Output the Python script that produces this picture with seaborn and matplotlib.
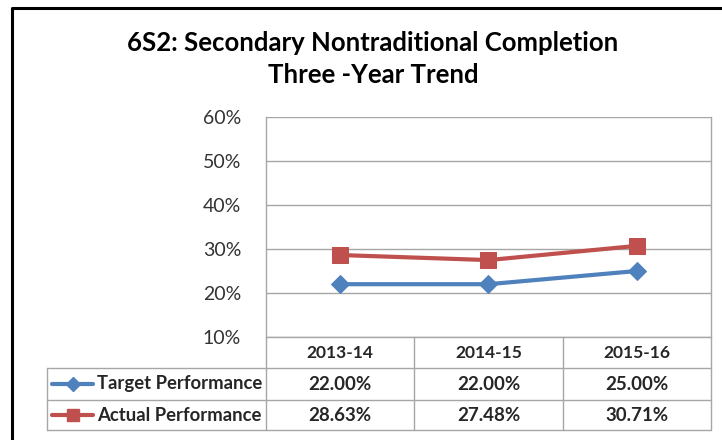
import seaborn as sns
import matplotlib.pyplot as plt
import pandas as pd
from matplotlib.lines import Line2D

# Valores
anos = ['2013-14', '2014-15', '2015-16']
target = [22.00, 22.00, 25.00]
actual = [28.63, 27.48, 30.71]
series_names = ['Target Performance', 'Actual Performance']
titulo = '6S2: Secondary Nontraditional Completion\nThree -Year Trend'

azul = '#4F81BD'
vermelho = '#C0504D'
grade = '#A6A6A6'

sns.set_style('white')
plt.rcParams['font.family'] = ['Lato', 'DejaVu Sans']

W, H = 722, 440
fig = plt.figure(figsize=(W / 100, H / 100), dpi=100)

# Area do grafico (em pixels da imagem)
x0, x1, y_top, y_bot = 266, 711, 117, 337
ax = fig.add_axes([x0 / W, 1 - y_bot / H, (x1 - x0) / W, (y_bot - y_top) / H])

df = pd.DataFrame({'ano': anos, 'target': target, 'actual': actual})
sns.lineplot(data=df, x='ano', y='target', ax=ax, color=azul, lw=3,
             marker='D', markersize=9, markeredgecolor=azul, sort=False)
sns.lineplot(data=df, x='ano', y='actual', ax=ax, color=vermelho, lw=3,
             marker='s', markersize=11, markeredgecolor=vermelho, sort=False)

ax.set_xlim(-0.5, 2.5)
ax.set_ylim(10, 60)
ax.set_yticks(range(10, 61, 10))
ax.set_yticklabels([f'{v}%' for v in range(10, 61, 10)], fontsize=14, color='#333333')
ax.tick_params(axis='y', length=0, pad=18)
ax.set_xticks([])
ax.set_xlabel('')
ax.set_ylabel('')
ax.yaxis.grid(True, color=grade, lw=1)
for s in ['top', 'bottom']:
    ax.spines[s].set_visible(False)
for s in ['left', 'right']:
    ax.spines[s].set_color(grade)
    ax.spines[s].set_linewidth(1)

# Titulo
fig.text(373 / W, 1 - 59 / H, titulo, ha='center', va='center', fontsize=18.5,
         fontweight='bold', linespacing=1.38, color='black')

# Tabela de dados abaixo do grafico, alinhada com as categorias
row_y = [337, 368, 400, 430]
tab_left = 47
trans = ax.get_xaxis_transform()


def ay(py):
    # pixel -> fracao do eixo (negativa abaixo do eixo)
    return (y_bot - py) / (y_bot - y_top)


def fy(py):
    return 1 - py / H


def fx(px):
    return px / W


lc = grade
# linhas horizontais
fig.add_artist(Line2D([fx(x0), fx(x1)], [fy(row_y[0])] * 2, color=lc, lw=1))
for py in row_y[1:]:
    fig.add_artist(Line2D([fx(tab_left), fx(x1)], [fy(py)] * 2, color=lc, lw=1))
# linhas verticais
for i in range(4):
    xv = ax.transData.transform((i - 0.5, 0))[0] / W
    fig.add_artist(Line2D([xv, xv], [fy(row_y[0]), fy(row_y[3])], color=lc, lw=1))
fig.add_artist(Line2D([fx(tab_left)] * 2, [fy(row_y[1]), fy(row_y[3])], color=lc, lw=1))

# cabecalho
for i, a in enumerate(anos):
    ax.text(i, ay((row_y[0] + row_y[1]) / 2 + 1), a, transform=trans, ha='center',
            va='center', fontsize=12.5, fontweight='bold', clip_on=False)

# linhas da tabela
for r, (nome, vals, cor, mk, ms) in enumerate([
        (series_names[0], target, azul, 'D', 7),
        (series_names[1], actual, vermelho, 's', 9)]):
    yc = (row_y[r + 1] + row_y[r + 2]) / 2
    for i, v in enumerate(vals):
        ax.text(i, ay(yc), f'{v:.2f}%', transform=trans, ha='center', va='center',
                fontsize=13.5, fontweight='bold', clip_on=False)
    fig.add_artist(Line2D([fx(52), fx(93)], [fy(yc)] * 2, color=cor, lw=3))
    fig.add_artist(Line2D([fx(73)], [fy(yc)], color=cor, marker=mk, markersize=ms,
                          markeredgecolor=cor))
    fig.text(fx(97), fy(yc), nome, ha='left', va='center', fontsize=13.3,
             fontweight='bold')

# moldura preta do grafico
fig.add_artist(Line2D([fx(12), fx(12), fx(730)], [fy(450), fy(8), fy(8)],
                      color='black', lw=2.2))

fig.savefig('out.png', dpi=100)
